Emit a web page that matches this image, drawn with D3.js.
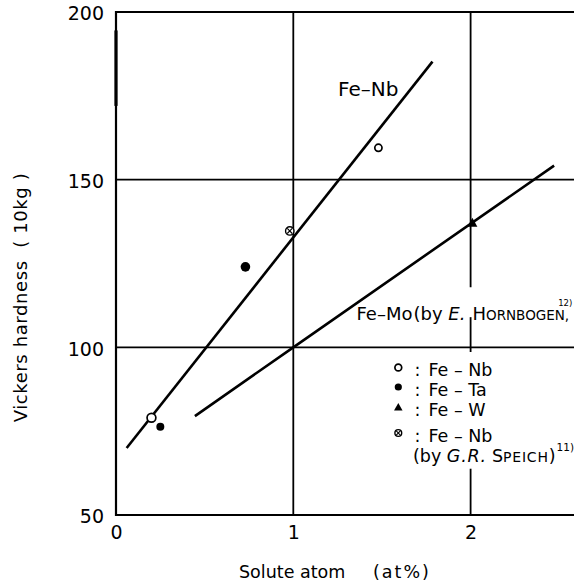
<!DOCTYPE html>
<html>
<head>
<meta charset="utf-8">
<script src="https://cdn.jsdelivr.net/npm/d3@7"></script>
<style>
  html, body { margin: 0; padding: 0; background: #fff; overflow: hidden; }
  svg { display: block; font-family: "DejaVu Sans", sans-serif; }
</style>
</head>
<body>
<svg id="chart" width="574" height="583"></svg>
<script>
// Axis ticks
const xTicks = [0, 1, 2];
const yTicks = [50, 100, 150, 200];

// Fitted lines (at%, Hv)
const feNbLineX = [0.06, 1.785];
const feNbLineY = [70, 185.2];
const feMoLineX = [0.445, 1, 2.471];
const feMoLineY = [79.5, 100, 154.2];

// Measured points
const feNbX = [0.2, 1.48];
const feNbY = [79, 159.5];
const feNbR = [4.4, 3.6];
const feTaX = [0.73, 0.25];
const feTaY = [124, 76.3];
const feTaR = [4.8, 4.0];
const feWX = [2.01];
const feWY = [137];
const speichX = [0.98];
const speichY = [134.7];

const svg = d3.select("#chart");
const W = 574;
const plotLeft = 116, plotTop = 12, plotBottom = 515;

const x = d3.scaleLinear().domain([0, 2.6]).range([plotLeft, plotLeft + 2.6 * 177.3]);
const y = d3.scaleLinear().domain([50, 200]).range([plotBottom, plotTop]);

// Grid lines
const grid = svg.append("g").attr("stroke", "#000").attr("stroke-width", 1.8);
[100, 150].forEach(v => {
  grid.append("line").attr("x1", x(0)).attr("x2", W + 5).attr("y1", y(v)).attr("y2", y(v));
});
grid.append("line").attr("x1", x(1)).attr("x2", x(1)).attr("y1", y(200)).attr("y2", y(50));
// x = 2 line is interrupted by the labels
[[200, 117.9], [109, 98.6], [63.8, 50]].forEach(([a, b]) => {
  grid.append("line").attr("x1", x(2)).attr("x2", x(2)).attr("y1", y(a)).attr("y2", y(b));
});

// Frame: top edge, left and bottom axes
const frame = svg.append("g").attr("stroke", "#000").attr("fill", "none");
frame.append("line").attr("x1", x(0)).attr("x2", W + 5).attr("y1", y(200)).attr("y2", y(200)).attr("stroke-width", 2);
frame.append("line").attr("x1", x(0)).attr("x2", W + 5).attr("y1", y(50)).attr("y2", y(50)).attr("stroke-width", 2.2);
frame.append("line").attr("x1", x(0)).attr("x2", x(0)).attr("y1", y(200) - 1).attr("y2", y(50) + 1).attr("stroke-width", 2.2);
frame.append("line").attr("x1", x(0)).attr("x2", x(0)).attr("y1", y(194.5)).attr("y2", y(172)).attr("stroke-width", 3.2);

// Axes (labels only)
const yAxis = svg.append("g")
  .attr("transform", `translate(${plotLeft},0)`)
  .call(d3.axisLeft(y).tickValues(yTicks).tickSize(0).tickPadding(12).tickFormat(d3.format("d")));
yAxis.select(".domain").remove();
yAxis.selectAll("text").attr("font-size", 19).attr("font-family", "DejaVu Sans").attr("fill", "#000")
  .attr("dy", "0.42em");

const xAxis = svg.append("g")
  .attr("transform", `translate(0,${plotBottom})`)
  .call(d3.axisBottom(x).tickValues(xTicks).tickSize(0).tickPadding(11).tickFormat(d3.format("d")));
xAxis.select(".domain").remove();
xAxis.selectAll("text").attr("font-size", 19).attr("font-family", "DejaVu Sans").attr("fill", "#000");

// Axis titles
const xTitle = svg.append("text").attr("y", 578).attr("font-size", 17.5).attr("fill", "#000");
xTitle.append("tspan").attr("x", 239).text("Solute atom");
xTitle.append("tspan").attr("x", 373).attr("letter-spacing", 2).text("(at%)");

svg.append("text")
  .attr("transform", "translate(26.5,297.5) rotate(-90)")
  .attr("text-anchor", "middle")
  .attr("font-size", 18)
  .attr("letter-spacing", 0.6)
  .attr("fill", "#000")
  .attr("xml:space", "preserve")
  .text("Vickers hardness  ( 10kg )");

// Fitted lines
const line = d3.line().x(d => x(d[0])).y(d => y(d[1]));
svg.append("path").datum(d3.zip(feNbLineX, feNbLineY)).attr("d", line)
  .attr("fill", "none").attr("stroke", "#000").attr("stroke-width", 2.6);
svg.append("path").datum(d3.zip(feMoLineX, feMoLineY)).attr("d", line)
  .attr("fill", "none").attr("stroke", "#000").attr("stroke-width", 2.6);

// Markers
function openCircle(g, cx, cy, r) {
  g.append("circle").attr("cx", cx).attr("cy", cy).attr("r", r)
    .attr("fill", "#fff").attr("stroke", "#000").attr("stroke-width", 1.7);
}
function filledCircle(g, cx, cy, r) {
  g.append("circle").attr("cx", cx).attr("cy", cy).attr("r", r).attr("fill", "#000");
}
function triangle(g, cx, cy, s) {
  const h = s * 0.9;
  g.append("path")
    .attr("d", `M${cx},${cy - h * 0.6}L${cx + s / 2},${cy + h * 0.4}L${cx - s / 2},${cy + h * 0.4}Z`)
    .attr("fill", "#000");
}
function crossedCircle(g, cx, cy, r) {
  g.append("circle").attr("cx", cx).attr("cy", cy).attr("r", r)
    .attr("fill", "#fff").attr("stroke", "#000").attr("stroke-width", 1.4);
  const k = r * 0.6;
  g.append("path").attr("d", `M${cx - k},${cy - k}L${cx + k},${cy + k}M${cx + k},${cy - k}L${cx - k},${cy + k}`)
    .attr("stroke", "#000").attr("stroke-width", 1.1);
}

const marks = svg.append("g");
feNbX.forEach((v, i) => openCircle(marks, x(v), y(feNbY[i]), feNbR[i]));
feTaX.forEach((v, i) => filledCircle(marks, x(v), y(feTaY[i]), feTaR[i]));
feWX.forEach((v, i) => triangle(marks, x(v), y(feWY[i]), 10));
speichX.forEach((v, i) => crossedCircle(marks, x(v), y(speichY[i]), 4.2));

// Line labels
svg.append("text").attr("x", 338).attr("y", 95.5).attr("font-size", 20).attr("fill", "#000").text("Fe–Nb");

const mo = svg.append("text").attr("x", 356.5).attr("y", 320).attr("font-size", 18).attr("fill", "#000");
mo.append("tspan").text("Fe–Mo");
mo.append("tspan").attr("dx", 1).text("(");
mo.append("tspan").attr("dx", 0).text("by ");
mo.append("tspan").attr("font-style", "italic").text("E.");
mo.append("tspan").attr("dx", 7).text("H");
mo.append("tspan").attr("font-size", 13.5).text("ORNBOGEN,");
mo.append("tspan").attr("font-size", 8.5).attr("dy", -14).attr("dx", -11).text("12)");

// Legend
const lg = svg.append("g").attr("font-size", 17.5).attr("fill", "#000");
const rows = [
  { y: 376, label: "Fe – Nb", draw: (g, cy) => openCircle(g, 398.3, cy, 3.4) },
  { y: 395.5, label: "Fe – Ta", draw: (g, cy) => filledCircle(g, 398.3, cy, 3.6) },
  { y: 416, label: "Fe – W", draw: (g, cy) => triangle(g, 398.3, cy, 8.5) },
  { y: 441.5, label: "Fe – Nb", draw: (g, cy) => crossedCircle(g, 398.3, cy, 3.4) }
];
rows.forEach(r => {
  r.draw(lg, r.y - 8.5);
  lg.append("text").attr("x", 414.5).attr("y", r.y).text(":");
  lg.append("text").attr("x", 428.5).attr("y", r.y).text(r.label);
});
const sp = lg.append("text").attr("x", 413).attr("y", 462);
sp.append("tspan").text("(by ");
sp.append("tspan").attr("font-style", "italic").attr("letter-spacing", 0.8).text("G.R.");
sp.append("tspan").attr("dx", 5).text("S");
sp.append("tspan").attr("font-size", 14).attr("letter-spacing", 0.8).text("PEICH");
sp.append("tspan").text(")");
sp.append("tspan").attr("font-size", 10.5).attr("dy", -11).attr("dx", 1).text("11)");
</script>
</body>
</html>
